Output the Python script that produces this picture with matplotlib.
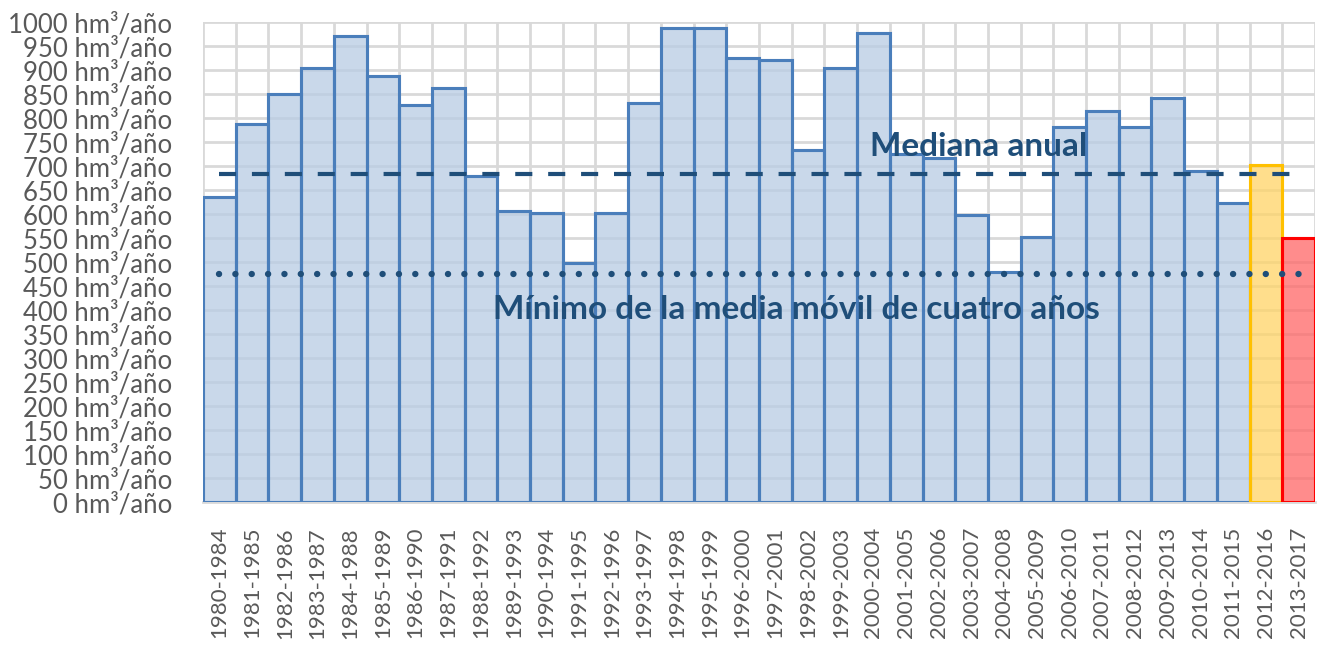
import matplotlib
matplotlib.use("Agg")
import matplotlib.pyplot as plt
from matplotlib.ticker import FixedLocator
import numpy as np

periods = ["1980-1984", "1981-1985", "1982-1986", "1983-1987", "1984-1988", "1985-1989",
           "1986-1990", "1987-1991", "1988-1992", "1989-1993", "1990-1994", "1991-1995",
           "1992-1996", "1993-1997", "1994-1998", "1995-1999", "1996-2000", "1997-2001",
           "1998-2002", "1999-2003", "2000-2004", "2001-2005", "2002-2006", "2003-2007",
           "2004-2008", "2005-2009", "2006-2010", "2007-2011", "2008-2012", "2009-2013",
           "2010-2014", "2011-2015", "2012-2016", "2013-2017"]
values = [635, 788, 849, 905, 971, 888, 828, 862, 679, 606, 602, 497,
          602, 831, 988, 988, 925, 921, 733, 905, 978, 726, 716, 598,
          479, 553, 781, 815, 781, 841, 690, 622, 702, 550]
mediana = 683
minimo_media_movil = 474
yticks = list(range(0, 1001, 50))

FONT = "Lato"

fig = plt.figure(figsize=(13.21, 6.47), dpi=100)
ax = fig.add_axes([203/1321, 1 - 502/647, (1315-203)/1321, (502-22)/647])

n = len(periods)
x = np.arange(n)
face = ["#b8cce4"] * n
edge = ["#4a7ebb"] * n
face[-2] = "#ffd466"; edge[-2] = "#ffc000"
face[-1] = "#ff6666"; edge[-1] = "#ff0000"

ax.set_axisbelow(True)
ax.bar(x, values, width=1.0, color=face, edgecolor=edge, linewidth=2.2, alpha=0.75, zorder=2)
ax.bar(x, values, width=1.0, color="none", edgecolor=edge, linewidth=2.2, zorder=3)

ax.set_xlim(-0.5, n - 0.5)
ax.set_ylim(0, 1000)
ax.yaxis.set_major_locator(FixedLocator(yticks))
ax.set_yticklabels([f"{v} hm³/año" for v in yticks])
ax.set_xticks(x)
ax.set_xticklabels(periods, rotation=90)
ax.xaxis.set_minor_locator(FixedLocator(np.arange(-0.5, n, 1.0)))
ax.grid(True, which="major", axis="y", color="#d9d9d9", linewidth=2, zorder=0)
ax.grid(True, which="minor", axis="x", color="#d9d9d9", linewidth=2, zorder=0)
ax.tick_params(axis="both", which="both", length=0)
ax.tick_params(axis="y", labelsize=18.5, labelcolor="#595959", pad=22)
ax.tick_params(axis="x", labelsize=16, labelcolor="#595959", pad=18)
for lab in ax.get_yticklabels() + ax.get_xticklabels():
    lab.set_fontfamily(FONT)

for s in ["top", "right", "left"]:
    ax.spines[s].set_visible(False)
ax.spines["bottom"].set_color("#d9d9d9")
ax.spines["bottom"].set_linewidth(2)

ax.plot([0, n - 1], [mediana, mediana], color="#1f4e79", linewidth=3,
        linestyle=(0, (4.1, 3.8)), solid_capstyle="butt", dash_capstyle="butt", zorder=4)
ax.plot([0, n - 1], [minimo_media_movil, minimo_media_movil], color="#1f4e79",
        linewidth=4.6, linestyle=(0, (0.01, 2.55)), dash_capstyle="round", zorder=4)

ax.text(23.23, 740, "Mediana anual", color="#1f4e79", fontsize=24, fontweight="bold",
        ha="center", va="center", fontfamily=FONT, zorder=5)
ax.text(17.63, 402, "Mínimo de la media móvil de cuatro años", color="#1f4e79",
        fontsize=24, fontweight="bold", ha="center", va="center",
        fontfamily=FONT, zorder=5)

fig.savefig("out.png", dpi=100)
